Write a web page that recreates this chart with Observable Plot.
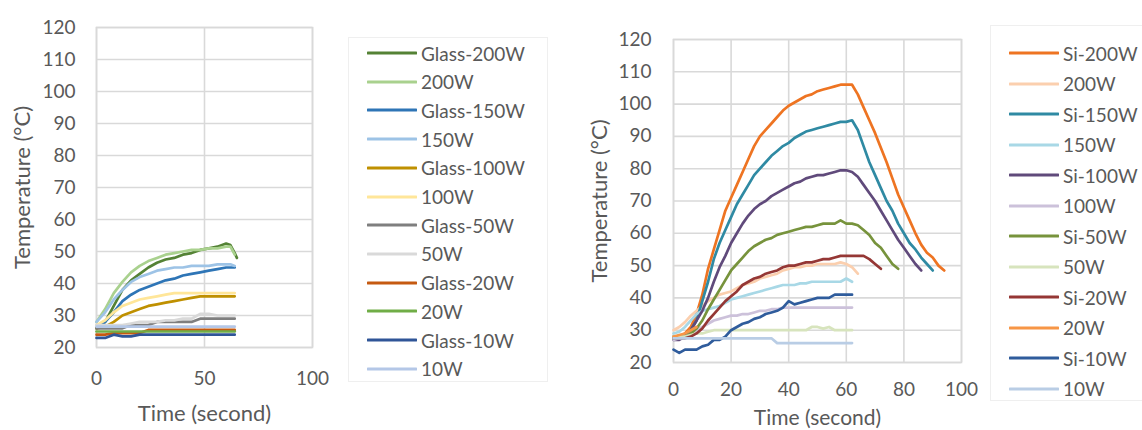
<!DOCTYPE html>
<html><head><meta charset="utf-8">
<script src="https://cdn.jsdelivr.net/npm/d3@7"></script>
<script src="https://cdn.jsdelivr.net/npm/@observablehq/plot@0.6"></script>
<style>
body{margin:0;background:#fff;width:1142px;height:430px;position:relative;overflow:hidden;font-family:Lato,sans-serif;}
.panel{position:absolute;top:0}
.legend{position:absolute;border:1px solid #efefef;box-sizing:border-box;background:#fff}
.item{position:absolute;left:0;height:24px;display:flex;align-items:center;font-size:19px;color:#595959;white-space:nowrap}
.item svg{margin-left:18px;margin-right:4px}
</style></head><body>
<div id="left" class="panel" style="left:0"></div>
<div id="legL" class="legend" style="left:348px;top:37px;width:200px;height:345px"></div>
<div id="right" class="panel" style="left:580px"></div>
<div id="legR" class="legend" style="left:990px;top:25px;width:170px;height:376px"></div>
<script>
// ---------- LEFT PANEL (Glass) ----------
const namesL = ["Glass-200W","200W","Glass-150W","150W","Glass-100W","100W","Glass-50W","50W","Glass-20W","20W","Glass-10W","10W"];
const colorsL = ["#548235","#a9d18e","#2e75b6","#9dc3e6","#bf9000","#ffe699","#7f7f7f","#d9d9d9","#c55a11","#70ad47","#2f5597","#b4c7e7"];
const timeL = [0,4,8,12,16,20,24,28,32,36,40,44,48,52,56,60,62,64,65];
const glass200 = [26,28,33,38,41,43,45,46.5,47.5,48,49,49.5,50.5,51,51.5,52.5,52,49.5,48];
const w200L    = [28,32,37,40.5,43.5,45.5,47,48,49,49.5,50,50.5,50.5,51,51,51.5,51.5,49];
const glass150 = [26,28,31,34.5,36.5,38,39,40,41,41.5,42.5,43,43.5,44,44.5,45,45,45];
const w150L    = [28,31,35,38,40.5,42,43,44,44.5,45,45,45.5,45.5,45.5,46,46,46,45.5];
const glass100 = [26,26.5,28,30,31,32,33,33.5,34,34.5,35,35.5,36,36,36,36,36,36];
const w100L    = [27,28.5,31,33,34,35,35.5,36,36.5,37,37,37,37,37,37,37,37,37];
const glass50  = [26,26,26,26,27,27,27,28,28,28,28,28,29,29,29,29,29,29];
const w50L     = [27,27,27,27,27.5,28,28,28,28.5,28.5,29,29,30.5,30.5,30,30,30,30];
const glass20  = [24,24,24.5,24.5,24.5,24.5,25.5,25.5,25.5,25.5,25.5,25.5,25.5,25.5,25.5,25.5,25.5,25.5];
const w20L     = [25,25,25,25,25,25,25,25,25,25,25,25,25,25,25,25,25,25];
const glass10  = [23,23,24,23.5,23.5,24,24,24,24,24,24,24,24,24,24,24,24,24];
const w10L     = [26.5,26.5,26.5,26.5,26.5,26.5,26.5,26.5,26.5,26.5,26.5,26.5,26.5,26.5,26.5,26.5,26.5,26.5];
const valuesL = [glass200,w200L,glass150,w150L,glass100,w100L,glass50,w50L,glass20,w20L,glass10,w10L];
const xTicksL = [0,50,100];

// ---------- RIGHT PANEL (Si) ----------
const namesR = ["Si-200W","200W ","Si-150W","150W ","Si-100W","100W ","Si-50W","50W ","Si-20W","20W ","Si-10W","10W "];
const labelsR = ["Si-200W","200W","Si-150W","150W","Si-100W","100W","Si-50W","50W","Si-20W","20W","Si-10W","10W"];
const colorsR = ["#ee7422","#fbcfae","#2f8aa3","#a8d8e6","#604a7b","#ccc1da","#77933c","#d7e4bd","#953735","#f79646","#2f5c9c","#b9cde5"];
const timeR = [0,2,4,6,8,10,12,14,16,18,20,22,24,26,28,30,32,34,36,38,40,42,44,46,48,50,52,54,56,58,60,62,64,66,68,70,72,74,76,78,80,82,84,86,88,90,92,94];
const si200 = [27.5,28,29,31,35,41,49,55,61,67,71,75,79,83,87,90,92,94,96,98,99.5,100.5,101.5,102.5,103,104,104.5,105,105.5,106,106,106,103,99,95,91,86.5,82,77,72,68,64,60,56.5,54,52.5,50,48.5];
const w200R = [30,31,32.5,34.5,36,37.5,39,40,41,41.5,42,43,44,44.5,45,46,46.5,47,47.5,48.5,49,49.5,49.5,50,50,50.5,50.5,50.5,50.5,51,50.5,49.5,47.5];
const si150 = [28,28,28.5,30,33,39,45,52,57,61,65,69,72,75,78,80,82,84,85.5,87,88,89.5,90.5,91.5,92,92.5,93,93.5,94,94.5,94.5,95,92,87,82,78,74,70,67,63,60,57,55,52.5,50.5,48.5];
const w150R = [29,29.5,31,33,35,36,36.5,37,37.5,38.5,39.5,40,40.5,41,41.5,42,42.5,43,43.5,44,44,44,44.5,44.5,45,45,45,45,45,45,46,45];
const si100 = [27,27,28,30,33,36,40,45,49.5,53,57,60,63,65.5,67.5,69,70,71.5,72.5,73.5,74.5,75.5,76,77,77.5,78,78,78.5,79,79.5,79.5,79,77.5,75,72.5,70,67,64,61,58,55.5,53,50.5,48.5];
const w100R = [27,27.5,28,29,30,31,32,33,33.5,34,34.5,34.5,35,35,35.5,36,36,36.5,36.5,37,37,37,37,37,37,37,37,37,37,37,37,37];
const si50  = [27.5,27.5,28,29,30.5,33,36.5,39.5,42.5,45.5,48.5,50.5,52.5,54.5,56,57,58,58.5,59.5,60,60.5,61,61.5,62,62,62.5,63,63,63,64,63,63,62.5,61,59.5,57,55.5,53,50.5,49];
const w50R  = [28,28,28,28.5,29,29,29.5,30,30,30,30,30,30,30,30,30,30,30,30,30,30,30,30,30,31,31,30.5,31,30,30,30,30];
const si20  = [27.5,27.5,27.5,28,29,30.5,33,35,37,39,40.5,42,44,45,46,46.5,47.5,48,48.5,49.5,50,50,50.5,51,51,51.5,52,52,52.5,53,53,53,53,53,52,50.5,49];
const w20R  = [28,28.5,29,30,31];
const si10  = [24,23,24,24,24,25,25.5,27,27,28,30,31,32,32.5,33.5,34,35,35.5,36,37,39,38,38.5,39,39.5,40,40,40,41,41,41,41];
const w10R  = [27.5,27.5,27.5,27.5,27.5,27.5,27.5,27.5,27.5,27.5,27.5,27.5,27.5,27.5,27.5,27.5,27.5,27.5,26,26,26,26,26,26,26,26,26,26,26,26,26,26];
const valuesR = [si200,w200R,si150,w150R,si100,w100R,si50,w50R,si20,w20R,si10,w10R];
const xTicksR = [0,20,40,60,80,100];
const yTicks = [20,30,40,50,60,70,80,90,100,110,120];

function rowsOf(names, times, values) {
  return names.flatMap((n, i) => values[i].map((v, j) => ({series: n, t: times[j], T: v})));
}

function panel(el, rows, names, colors, xTicks, o) {
  const grid = {stroke: "#d9d9d9", strokeOpacity: 1, strokeWidth: 1.6};
  const chart = Plot.plot({
    width: o.width, height: 430,
    marginLeft: o.ml, marginRight: o.mr, marginTop: o.mt, marginBottom: o.mb,
    style: {fontFamily: "Lato, sans-serif", fontSize: "19px", color: "#595959", background: "transparent", overflow: "visible"},
    x: {domain: [0, 100]},
    y: {domain: [20, 120]},
    color: {domain: names, range: colors},
    marks: [
      Plot.gridX(xTicks, grid),
      Plot.gridY(yTicks, grid),
      Plot.frame({stroke: "#d9d9d9", strokeWidth: 1.6}),
      Plot.axisX(xTicks, {tickSize: 0, tickPadding: o.xPad, label: null, fill: "#595959"}),
      Plot.axisY(yTicks, {tickSize: 0, tickPadding: o.yPad, label: null, fill: "#595959"}),
      Plot.line(rows, {x: "t", y: "T", z: "series", stroke: "series", strokeWidth: 2.7, strokeLinejoin: "round", strokeLinecap: "round"}),
      Plot.text(["Time (second)"], {text: d => d, frameAnchor: "bottom", dy: o.xTitle, textAnchor: "middle", lineAnchor: "middle", fontSize: o.titleSize, fill: "#595959"}),
      Plot.text(["Temperature (°C)"], {text: d => d, frameAnchor: "left", dx: -74, rotate: -90, textAnchor: "middle", lineAnchor: "middle", fontSize: 22, fill: "#595959"})
    ]
  });
  document.getElementById(el).appendChild(chart);
}

panel("left", rowsOf(namesL, timeL, valuesL), namesL, colorsL, xTicksL,
  {width: 340, ml: 96, mr: 28, mt: 27, mb: 83, yPad: 21, xPad: 24, xTitle: 66, titleSize: 22});
panel("right", rowsOf(namesR, timeR, valuesR), namesR, colorsR, xTicksR,
  {width: 410, ml: 93, mr: 29, mt: 39, mb: 68, yPad: 22, xPad: 20, xTitle: 56, titleSize: 21});

function legend(el, labels, colors, first, step) {
  const box = document.getElementById(el);
  labels.forEach((lab, i) => {
    const d = document.createElement("div");
    d.className = "item";
    d.style.top = (first + i * step - 12) + "px";
    d.innerHTML = `<svg width="50" height="6"><line x1="1" x2="49" y1="3" y2="3" stroke="${colors[i]}" stroke-width="3" stroke-linecap="round"/></svg><span>${lab}</span>`;
    box.appendChild(d);
  });
}
legend("legL", namesL, colorsL, 15, 28.7);
legend("legR", labelsR, colorsR, 27, 30.5);
</script>
</body></html>
